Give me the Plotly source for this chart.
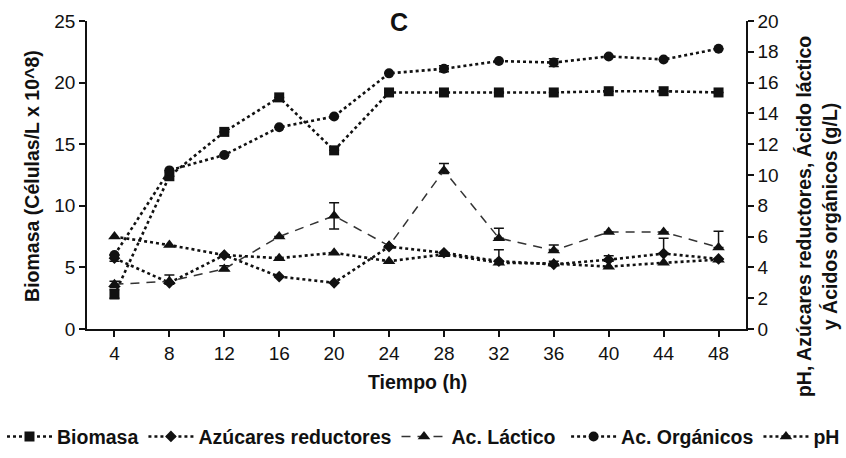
import plotly.graph_objects as go

# Sampling times (h)
tiempo = [4, 8, 12, 16, 20, 24, 28, 32, 36, 40, 44, 48]

# Biomass (cells/L x 10^8) -> left axis
biomasa = [2.8, 12.4, 16.0, 18.8, 14.5, 19.2, 19.2, 19.2, 19.2, 19.3, 19.3, 19.2]
err_biomasa_up = [0.4, 0, 0, 0, 0, 0, 0, 0, 0, 0, 0, 0]
err_biomasa_dn = [0.3, 0, 0, 0, 0, 0, 0, 0, 0, 0, 0, 0]

# Right axis series (pH, g/L)
azucares = [4.6, 3.0, 4.8, 3.4, 3.0, 5.35, 4.95, 4.4, 4.2, 4.5, 4.9, 4.55]
err_azucares_up = [0.2, 0, 0, 0, 0, 0, 0, 0.75, 0.2, 0.25, 1.0, 0]
err_azucares_dn = [0.2, 0, 0, 0, 0, 0, 0, 0, 0.1, 0.1, 0, 0]

lactico = [2.9, 3.1, 3.9, 6.0, 7.35, 5.4, 10.3, 5.9, 5.1, 6.3, 6.3, 5.3]
err_lactico_up = [0.2, 0.4, 0.2, 0, 0.85, 0, 0.45, 0.65, 0.35, 0, 0, 1.05]
err_lactico_dn = [0.2, 0.2, 0.1, 0, 0.85, 0, 0.2, 0, 0, 0, 0, 0]

organicos = [4.8, 10.3, 11.3, 13.1, 13.8, 16.6, 16.9, 17.4, 17.3, 17.7, 17.5, 18.2]
err_organicos_up = [0, 0, 0, 0, 0, 0, 0.2, 0, 0.25, 0, 0, 0]
err_organicos_dn = [0, 0, 0, 0, 0, 0, 0.2, 0, 0.25, 0, 0, 0]

ph = [6.0, 5.45, 4.8, 4.6, 4.95, 4.4, 4.85, 4.3, 4.25, 4.05, 4.3, 4.5]

FONT = "Liberation Sans, Arial, sans-serif"
INK = "#111111"

fig = go.Figure()


def add_series(name, y, err_up, err_dn, symbol, size, dash, width, color, axis, legend):
    error_y = None
    if err_up is not None:
        error_y = dict(type="data", symmetric=False, array=err_up, arrayminus=err_dn,
                       color=INK, thickness=1.5, width=5)
    fig.add_trace(go.Scatter(
        x=tiempo, y=y, name=name, yaxis=axis, legend=legend,
        mode="lines+markers",
        line=dict(color=color, width=width, dash=dash),
        marker=dict(symbol=symbol, size=size, color=INK),
        error_y=error_y,
    ))


add_series("Biomasa", biomasa, err_biomasa_up, err_biomasa_dn,
           "square", 10, "3px,3px", 2.6, INK, "y", "legend")
add_series("Azúcares reductores", azucares, err_azucares_up, err_azucares_dn,
           "diamond", 9, "3px,3px", 2.6, INK, "y2", "legend")
add_series("Ac. Láctico", lactico, err_lactico_up, err_lactico_dn,
           "triangle-up", 11, "9px,7px", 1.5, "#333333", "y2", "legend")
add_series("Ac. Orgánicos", organicos, err_organicos_up, err_organicos_dn,
           "circle", 10, "3px,3px", 2.6, INK, "y2", "legend2")
add_series("pH", ph, None, None,
           "triangle-up", 11, "3px,3px", 2.6, INK, "y2", "legend2")

tickfont = dict(family=FONT, size=19, color="#111")
axis_common = dict(showgrid=False, zeroline=False, showline=True, linecolor="#111",
                   linewidth=1.5, ticks="outside", ticklen=6, tickwidth=1.5,
                   tickcolor="#111", tickfont=tickfont)

legend_common = dict(orientation="h", yanchor="middle", y=-0.35, xanchor="left",
                     font=dict(family=FONT, size=19.5, color="#111", weight="bold"),
                     itemwidth=45, bgcolor="rgba(0,0,0,0)", tracegroupgap=0)

title_font = dict(family=FONT, size=19.5, color="#111", weight="bold")

fig.update_layout(
    width=846, height=458,
    margin=dict(l=87, r=100, t=21, b=129, autoexpand=False),
    paper_bgcolor="white", plot_bgcolor="white",
    xaxis=dict(range=[2, 50], tickvals=tiempo, **axis_common),
    yaxis=dict(range=[0, 25], dtick=5, **axis_common),
    yaxis2=dict(range=[0, 20], dtick=2, overlaying="y", side="right", **axis_common),
    legend=dict(x=-0.129, **legend_common),
    legend2=dict(x=0.727, **legend_common),
    annotations=[
        dict(text="C", x=0.473, y=0.997, xref="paper", yref="paper", showarrow=False,
             xanchor="center", yanchor="middle",
             font=dict(family=FONT, size=25, color="#111", weight="bold")),
        dict(text="Biomasa (Células/L x 10^8)", x=-0.0835, y=0.497, xref="paper", yref="paper",
             showarrow=False, textangle=-90, xanchor="center", yanchor="middle", font=title_font),
        dict(text="pH, Azúcares reductores, Ácido láctico<br>y Ácidos orgánicos (g/L)",
             x=1.108, y=0.364, xref="paper", yref="paper", showarrow=False, textangle=-90,
             xanchor="center", yanchor="middle", font=title_font),
        dict(text="Tiempo (h)", x=0.502, y=-0.172, xref="paper", yref="paper", showarrow=False,
             xanchor="center", yanchor="middle", font=title_font),
    ],
)

fig.write_html("out.html")
